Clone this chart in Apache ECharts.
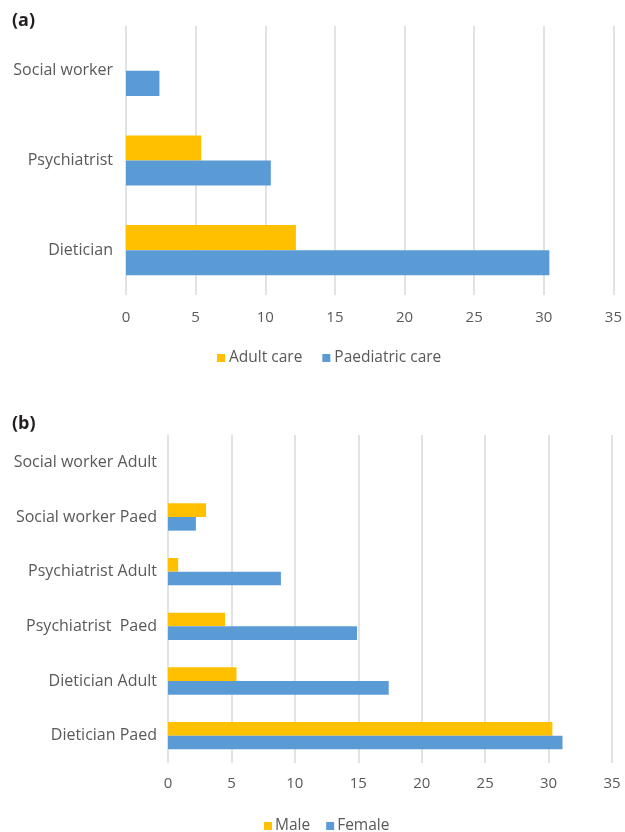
<!DOCTYPE html>
<html>
<head>
<meta charset="utf-8">
<script src="https://cdn.jsdelivr.net/npm/echarts@6/dist/echarts.min.js"></script>
<style>
html,body{margin:0;padding:0;background:#fff;}
#chart{width:625px;height:832px;}
</style>
</head>
<body>
<div id="chart"></div>
<script>
// Panel (a)
const catsA = ['Dietician', 'Psychiatrist', 'Social worker'];
const adultCare = [12.2, 5.4, 0];
const paediatricCare = [30.4, 10.4, 2.4];
// Panel (b)
const catsB = ['Dietician Paed', 'Dietician Adult', 'Psychiatrist  Paed', 'Psychiatrist Adult', 'Social worker Paed', 'Social worker Adult'];
const male = [30.3, 5.4, 4.5, 0.8, 3.0, 0];
const female = [31.1, 17.4, 14.9, 8.9, 2.2, 0];
const xTicks = [0, 5, 10, 15, 20, 25, 30, 35];

const FONT = '"Open Sans"';
const GREY = '#595959';
const YELLOW = '#FFC000';
const BLUE = '#5B9BD5';

function xAxis(gridIndex, margin) {
  return {
    type: 'value', gridIndex, min: xTicks[0], max: xTicks[xTicks.length - 1], interval: 5,
    axisLine: {show: false}, axisTick: {show: false},
    axisLabel: {color: GREY, fontFamily: FONT, fontSize: 15, margin},
    splitLine: {show: true, lineStyle: {color: '#d9d9d9', width: 1.5}}
  };
}
function yAxis(gridIndex, data, margin) {
  return {
    type: 'category', gridIndex, data,
    axisLine: {show: false}, axisTick: {show: false},
    axisLabel: {color: GREY, fontFamily: FONT, fontSize: 16, margin}
  };
}

const chart = echarts.init(document.getElementById('chart'), null, {renderer: 'canvas'});
chart.setOption({
  animation: false,
  backgroundColor: '#fff',
  title: [
    {text: '(a)', left: 7, top: 7, textStyle: {fontFamily: FONT, fontWeight: 'bold', fontSize: 18, color: '#231f20'}},
    {text: '(b)', left: 7, top: 410, textStyle: {fontFamily: FONT, fontWeight: 'bold', fontSize: 18, color: '#231f20'}}
  ],
  legend: [
    {data: ['Adult care', 'Paediatric care'], left: 212, top: 345, itemWidth: 8, itemHeight: 8, itemGap: 20,
     icon: 'rect', textStyle: {color: GREY, fontFamily: FONT, fontSize: 15.5, padding: [0, 0, 0, -1]}},
    {data: ['Male', 'Female'], left: 259, top: 813, itemWidth: 8, itemHeight: 8, itemGap: 16,
     icon: 'rect', textStyle: {color: GREY, fontFamily: FONT, fontSize: 15.5, padding: [0, 0, 0, -2]}}
  ],
  grid: [
    {left: 126, right: 10, top: 26, height: 269},
    {left: 168, right: 13, top: 435, height: 328}
  ],
  xAxis: [xAxis(0, 15), xAxis(1, 13)],
  yAxis: [yAxis(0, catsA, 13), yAxis(1, catsB, 11)],
  series: [
    {name: 'Adult care', type: 'bar', xAxisIndex: 0, yAxisIndex: 0, data: adultCare, itemStyle: {color: YELLOW}, barGap: '0%', barCategoryGap: '44%'},
    {name: 'Paediatric care', type: 'bar', xAxisIndex: 0, yAxisIndex: 0, data: paediatricCare, itemStyle: {color: BLUE}, barGap: '0%', barCategoryGap: '44%'},
    {name: 'Male', type: 'bar', xAxisIndex: 1, yAxisIndex: 1, data: male, itemStyle: {color: YELLOW}, barGap: '0%', barCategoryGap: '50%'},
    {name: 'Female', type: 'bar', xAxisIndex: 1, yAxisIndex: 1, data: female, itemStyle: {color: BLUE}, barGap: '0%', barCategoryGap: '50%'}
  ]
});
</script>
</body>
</html>
